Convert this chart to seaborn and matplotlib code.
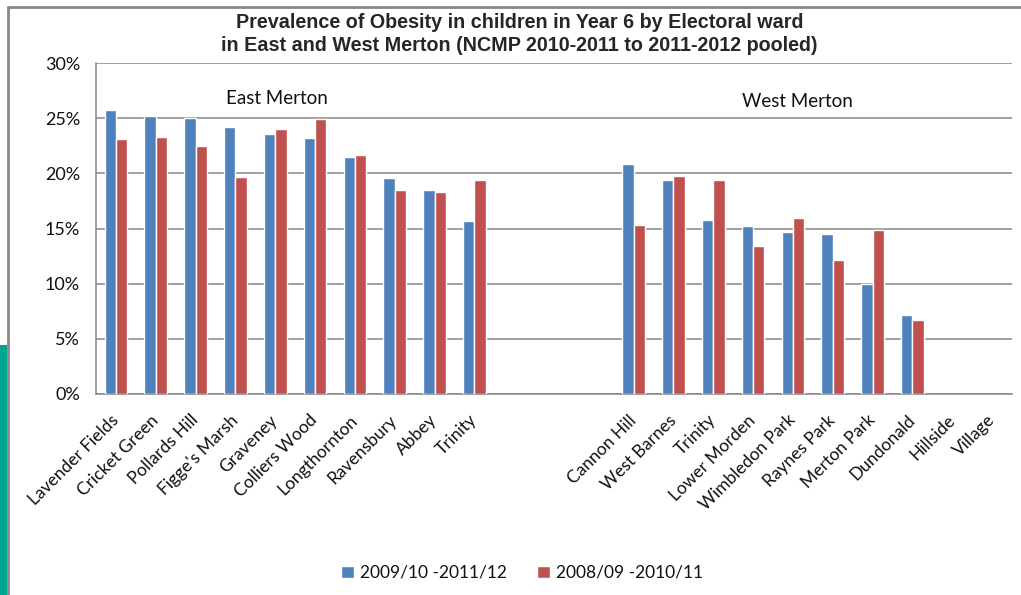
import matplotlib
matplotlib.use("Agg")
import numpy as np
import pandas as pd
import matplotlib.pyplot as plt
import matplotlib.transforms as mtransforms
from matplotlib.lines import Line2D
from matplotlib.patches import Rectangle
from matplotlib.ticker import FuncFormatter, FixedLocator
import seaborn as sns

# Ward groups and prevalence (%) for the two pooled periods
east_wards = ["Lavender Fields", "Cricket Green", "Pollards Hill", "Figge's Marsh",
              "Graveney", "Colliers Wood", "Longthornton", "Ravensbury", "Abbey", "Trinity"]
east_recent = [25.7, 25.2, 25.0, 24.2, 23.6, 23.2, 21.5, 19.6, 18.5, 15.7]
east_earlier = [23.1, 23.3, 22.5, 19.7, 24.0, 24.9, 21.7, 18.5, 18.3, 19.4]

west_wards = ["Cannon Hill", "West Barnes", "Trinity", "Lower Morden", "Wimbledon Park",
              "Raynes Park", "Merton Park", "Dundonald", "Hillside", "Village"]
west_recent = [20.85, 19.4, 15.75, 15.2, 14.7, 14.5, 10.0, 7.2, None, None]
west_earlier = [15.35, 19.8, 19.4, 13.4, 15.95, 12.1, 14.9, 6.7, None, None]

series_names = ["2009/10 -2011/12", "2008/09 -2010/11"]
group_names = ["East Merton", "West Merton"]
y_ticks = [0, 5, 10, 15, 20, 25, 30]
n_gap = 3

BLUE = "#4F81BD"
RED = "#C0504D"
GRID = "#868686"

sns.set_style("white")
plt.rcParams["font.family"] = ["Lato", "DejaVu Sans"]

# Long-form table; slot keys keep the two "Trinity" wards apart
rows = []
east_keys = [f"E{i}" for i in range(len(east_wards))]
west_keys = [f"W{i}" for i in range(len(west_wards))]
gap_keys = [f"G{i}" for i in range(n_gap)]
for keys, recent, earlier in ((east_keys, east_recent, east_earlier),
                              (west_keys, west_recent, west_earlier)):
    for k, a, b in zip(keys, recent, earlier):
        rows.append({"slot": k, "series": series_names[0], "value": a})
        rows.append({"slot": k, "series": series_names[1], "value": b})
df = pd.DataFrame(rows).dropna()

order = east_keys + gap_keys + west_keys
labels = east_wards + [""] * n_gap + west_wards

fig = plt.figure(figsize=(10.21, 5.95), dpi=100)
ax = fig.add_axes([96 / 1021, 1 - 394 / 595, (1012 - 96) / 1021, (394 - 63) / 595])

sns.barplot(data=df, x="slot", y="value", hue="series", order=order,
            hue_order=series_names, palette=[BLUE, RED], width=0.57, gap=0,
            errorbar=None, saturation=1, ax=ax, zorder=3)

handles, leg_labels = ax.get_legend_handles_labels()
if ax.get_legend() is not None:
    ax.get_legend().remove()

ax.set_xlim(-0.5, len(order) - 0.5)
ax.set_ylim(0, 30)
ax.set_xlabel("")
ax.set_ylabel("")

ax.yaxis.set_major_locator(FixedLocator(y_ticks))
ax.yaxis.set_major_formatter(FuncFormatter(lambda v, p: f"{v:.0f}%"))
ax.grid(axis="y", color=GRID, linewidth=1.1, zorder=0)
ax.set_axisbelow(True)

ax.set_xticks(range(len(order)))
ax.set_xticklabels(labels, rotation=45, ha="right", va="center",
                   rotation_mode="anchor", fontsize=12.5, color="#111111")
offset = mtransforms.ScaledTranslation(10 / 72, 0, fig.dpi_scale_trans)
for lab in ax.get_xticklabels():
    lab.set_transform(lab.get_transform() + offset)
ax.tick_params(axis="x", which="major", length=0, pad=17)
ax.set_xticks(np.arange(-0.5, len(order), 1.0), minor=True)
ax.tick_params(axis="x", which="minor", length=5, color=GRID, width=1)
ax.tick_params(axis="y", which="major", length=4, color=GRID, width=1,
               labelsize=13, labelcolor="#111111", pad=7.5)

for side in ("top", "right"):
    ax.spines[side].set_visible(False)
for side in ("left", "bottom"):
    ax.spines[side].set_color(GRID)
    ax.spines[side].set_linewidth(1.1)

# Group captions
ax.text(4.05, 26.75, group_names[0], ha="center", va="center", fontsize=13.5, color="#111111")
ax.text(17.1, 26.55, group_names[1], ha="center", va="center", fontsize=13.5, color="#111111")

fig.text(0.509, 1 - 34 / 595,
         "Prevalence of Obesity in children in Year 6 by Electoral ward\n"
         "in East and West Merton (NCMP 2010-2011 to 2011-2012 pooled)",
         ha="center", va="center", fontsize=14.2, fontweight="bold",
         family="Liberation Sans", linespacing=1.25)

fig.legend(handles, leg_labels, loc="center", bbox_to_anchor=(522 / 1021, 1 - 573 / 595),
           ncol=2, frameon=False, handlelength=0.75, handleheight=0.75,
           handletextpad=0.35, columnspacing=1.7, fontsize=12.5,
           labelcolor="#111111")

# Slide frame: grey border on left/top and teal strip at lower left
fig.add_artist(Line2D([8 / 1021, 8 / 1021], [0, 1 - 7 / 595], transform=fig.transFigure,
                      color="#888888", linewidth=2))
fig.add_artist(Line2D([8 / 1021, 1], [1 - 7 / 595, 1 - 7 / 595], transform=fig.transFigure,
                      color="#888888", linewidth=2))
fig.add_artist(Rectangle((0, 0), 7 / 1021, 1 - 345 / 595, transform=fig.transFigure,
                         color="#00A592", linewidth=0))

fig.savefig("out.png", dpi=100)
